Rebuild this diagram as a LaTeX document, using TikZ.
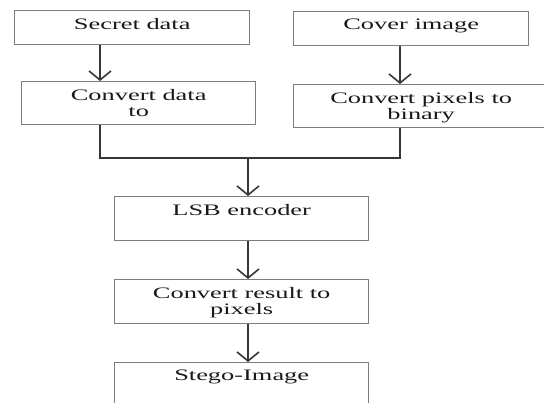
\documentclass[tikz,border=0pt]{standalone}
\usepackage{fontspec}
\setmainfont[FakeStretch=1.65]{Liberation Serif}
\usepackage{tikz}
\usetikzlibrary{arrows.meta,calc}
\definecolor{boxgray}{RGB}{125,125,125}
\definecolor{linegray}{RGB}{55,55,55}

\begin{document}
\begin{tikzpicture}[x=1pt,y=-1pt,
  box/.style={draw=boxgray,line width=1.4pt,fill=white,anchor=north west,inner sep=0pt},
  txt/.style={anchor=north,inner xsep=2pt,inner ysep=8pt,align=center,text=black!90,font=\fontsize{16}{16.5}\selectfont},
  line/.style={draw=linegray,line width=1.8pt},
  arr/.style={line,-{Straight Barb[length=9pt,width=22pt,line width=1.6pt]}}]
\clip (0,0) rectangle (544,403);
\fill[white] (0,0) rectangle (544,403);
\node[box,minimum width=235,minimum height=34,label={[txt]north:Secret data}] (secret) at (14,10) {};
\node[box,minimum width=235,minimum height=34,label={[txt]north:Cover image}] (cover) at (293,11) {};
\node[box,minimum width=234,minimum height=43,label={[txt]north:Convert data\\to}] (convdata) at (21,81) {};
\node[box,minimum width=255,minimum height=43,label={[txt]north:Convert pixels to\\binary}] (convpix) at (293,84) {};
\node[box,minimum width=254,minimum height=44,label={[txt]north:LSB encoder}] (encoder) at (114,196) {};
\node[box,minimum width=254,minimum height=44,label={[txt]north:Convert result to\\pixels}] (convres) at (114,279) {};
\node[box,minimum width=254,minimum height=46,label={[txt]north:Stego-Image}] (stego) at (114,362) {};
\coordinate (lcol) at (100,0);
\coordinate (rcol) at (400,0);
\coordinate (mcol) at (248,0);
\coordinate (join) at (248,158);
\draw[arr] (secret.south -| lcol) -- (convdata.north -| lcol);
\draw[arr] (cover.south -| rcol) -- (convpix.north -| rcol);
\draw[line] (convdata.south -| lcol) |- (join) -| (convpix.south -| rcol);
\draw[arr] (join) -- (encoder.north -| join);
\draw[arr] (encoder.south -| mcol) -- (convres.north -| mcol);
\draw[arr] (convres.south -| mcol) -- (stego.north -| mcol);
\end{tikzpicture}
\end{document}
